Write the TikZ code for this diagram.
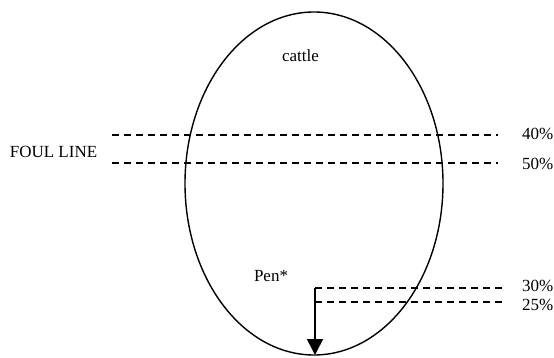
\documentclass[tikz,border=0pt]{standalone}
\usepackage{fontspec}
\setmainfont{Liberation Serif}
\usetikzlibrary{arrows.meta, positioning}

\begin{document}
\begin{tikzpicture}[
  x=1pt, y=-1pt,
  every node/.style={font=\fontsize{17}{20}\selectfont, inner sep=0pt},
  guideline/.style={draw, line width=1.3pt, dash pattern=on 7pt off 5pt},
  pctlabel/.style={anchor=west},
]
\useasboundingbox (0,0) rectangle (554,358);

% pen outline
\draw[line width=1.4pt] (314,183.5) ellipse [x radius=129, y radius=171.5];

\node (cattle) at (300.5,56) {cattle};
\node (pen) at (271,276) {Pen*};
\node (foul) at (53.5,151.5) {FOUL LINE};

% upper lines
\coordinate (u1l) at (112,135);
\coordinate (u1r) at (498,135);
\coordinate (u2l) at (112,163);
\coordinate (u2r) at (498,163);
\draw[guideline] (u1l) -- (u1r);
\draw[guideline] (u2l) -- (u2r);
\node[pctlabel] (p40) at (522,134) {40\%};
\node[pctlabel] (p50) at (522,164) {50\%};

% lower lines
\coordinate (l1l) at (315,288);
\coordinate (l1r) at (502,288);
\coordinate (l2l) at (315,302);
\coordinate (l2r) at (502,302);
\draw[guideline] (l1l) -- (l1r);
\draw[guideline] (l2l) -- (l2r);
\node[pctlabel] (p30) at (522,286) {30\%};
\node[pctlabel] (p25) at (522,305) {25\%};

% arrow down to the bottom
\coordinate (bottom) at (315,355);
\draw[line width=1.6pt, -{Triangle[length=16pt, width=16pt]}] (l1l) -- (bottom);
\end{tikzpicture}
\end{document}
